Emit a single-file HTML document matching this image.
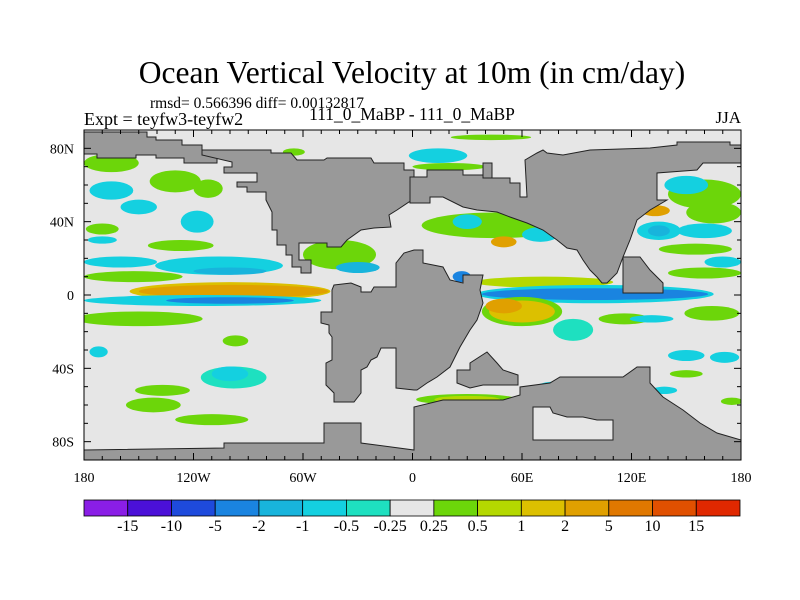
<!DOCTYPE html>
<html><head><meta charset="utf-8">
<style>
html,body{margin:0;padding:0;background:#fff;}
svg{display:block;font-family:"Liberation Serif",serif;}
</style></head>
<body>
<svg id="chart" width="800" height="600" viewBox="0 0 800 600" xmlns="http://www.w3.org/2000/svg">
<defs><clipPath id="plotclip"><rect x="84" y="130" width="657" height="330"/></clipPath></defs>
<text x="412" y="83" font-size="31.5" text-anchor="middle">Ocean Vertical Velocity at 10m (in cm/day)</text>
<text x="150" y="108" font-size="15.5">rmsd= 0.566396 diff= 0.00132817</text>
<text x="84" y="125" font-size="18">Expt = teyfw3-teyfw2</text>
<text x="412" y="120" font-size="17.5" text-anchor="middle">111_0_MaBP - 111_0_MaBP</text>
<text x="741" y="123" font-size="17" text-anchor="end">JJA</text>
<rect x="84" y="130" width="657" height="330" fill="#e6e6e6"/>
<g id="blobs" clip-path="url(#plotclip)"></g>
<g id="land" clip-path="url(#plotclip)"></g>
<g id="axes"></g>
<g id="colorbar"></g>
</svg>
<script>
const palette=["#8a1ee6","#4b10d8","#1e4adc","#1a84e0","#18b4dc","#14d0e0","#1ee0c0","#e6e6e6","#6cd60a","#b4d800","#dcc000","#e0a000","#e07800","#e05000","#e02800"];
const cbLabels=["-15","-10","-5","-2","-1","-0.5","-0.25","0.25","0.5","1","2","5","10","15"];
const xTickLabels=["180","120W","60W","0","60E","120E","180"];
const xTickLons=[-180,-120,-60,0,60,120,180];
const yTickLabels=["80N","40N","0","40S","80S"];
const yTickLats=[80,40,0,-40,-80];
// anomaly blobs: centre lon/lat, radius lon/lat, colour level
const blobLon=[-165,-165,-150,-130,-112,-118,-170,-170,-127,-160,-106,-100,-153,-100,-98,-115,-100,-150,-97,-98,-100,-137,-142,-110,-172,-40,-30,-65,
 43,14,20,45,30,70,27,50,72,100,100,60,60,50,88,116,131,164,160,150,165,160,155,170,160,133,135,135,171,150,150,175,30,30,82,138];
const blobLat=[72,57,48,62,58,40,36,30,27,18,16,13,10,2,2,-3,-3,-13,-25,-45,-43,-52,-60,-68,-31,22,15,78,
 86,76,70,38,40,33,10,29,7,0.5,0.5,-9,-9,-6,-19,-13,-13,-10,55,60,45,35,25,18,12,46,35,35,-34,-33,-43,-58,-57,-57,-50,-52];
const blobRLon=[15,12,10,14,8,9,9,8,18,20,35,20,27,55,52,65,35,35,7,18,10,15,15,20,5,20,12,6,
 22,16,20,40,8,10,5,7,38,65,62,22,18,10,11,14,12,15,20,12,15,15,20,10,20,8,12,6,8,10,9,6,28,18,14,7];
const blobRLat=[5,5,4,6,5,6,3,2,3,3,5,2,3,5,3.5,3,1.8,4,3,6,4,3,4,3,3,8,3,2,
 1.5,4,2,7,4,4,3,3,3,5,3.2,8,6,4,6,3,2,4,8,5,6,4,3,3,3,3,5,3,3,3,2,2,3,2,3,2];
const blobLevel=[8,5,5,8,8,5,8,5,8,5,5,4,8,10,11,5,3,8,8,6,5,8,8,8,5,8,4,8,
 8,5,8,8,5,5,3,11,9,5,3,8,10,11,6,8,5,8,8,5,8,5,8,5,8,11,5,4,5,5,8,8,8,9,5,5];
const W=657,H=330,X0=84,Y0=130;
function xs(lon){return X0+(lon+180)/360*W;}
function ys(lat){return Y0+(90-lat)/180*H;}
const NS="http://www.w3.org/2000/svg";
const gb=document.getElementById('blobs');
for(let i=0;i<blobLon.length;i++){
 const e=document.createElementNS(NS,'ellipse');
 e.setAttribute('cx',xs(blobLon[i]));e.setAttribute('cy',ys(blobLat[i]));
 e.setAttribute('rx',blobRLon[i]/360*W);e.setAttribute('ry',blobRLat[i]/180*H);
 e.setAttribute('fill',palette[blobLevel[i]]);
 
 
 gb.appendChild(e);
}
const landPolys=[
"84,132 147,132 147,137 156,137 156,140 182,140 182,145 202,145 202,155 217,155 217,163 184,163 184,158 156,158 156,155 136,155 136,158 97,158 97,154 84,154",
"202,150 271,150 271,153 291,153 297,160 324,160 327,158 371,158 374,163 404,163 404,170 414,170 414,200 409,202 397,210 389,215 391,227 374,228 361,230 347,240 341,247 327,247 327,243 299,243 299,260 311,260 311,273 301,273 301,267 292,267 292,255 286,255 286,245 277,245 277,230 272,230 272,212 271,210 266,200 266,192 247,192 247,187 237,187 237,182 257,182 257,173 224,173 224,167 232,167 232,162 202,155",
"334,285 351,283 361,287 361,292 371,292 374,287 396,287 396,263 404,253 414,250 423,250 423,263 443,267 450,280 463,283 463,275 483,275 480,290 483,303 477,320 470,330 460,347 450,367 437,377 427,383 417,390 414,390 396,388 396,348 381,348 377,357 371,360 367,367 361,370 361,393 354,402 334,402 334,393 326,385 326,363 332,360 332,337 329,333 329,325 321,323 321,312 332,312 332,290",
"410,177 427,177 427,170 463,170 463,175 487,175 487,178 510,178 510,183 520,183 520,197 527,197 525,160 537,153 543,150 547,153 563,155 590,150 650,148 677,145 677,142 730,142 730,145 741,145 741,163 703,163 697,170 657,173 657,200 667,200 650,210 637,220 630,240 623,257 617,273 607,283 602,283 597,277 590,270 583,260 577,250 567,248 557,240 543,230 527,223 510,217 497,212 477,210 463,207 443,197 430,197 430,203 410,203",
"623,257 640,257 650,270 657,277 663,283 663,293 623,293",
"457,370 470,370 470,363 487,352 497,363 503,370 518,375 518,385 483,385 470,388 457,383",
"84,450 224,448 224,443 324,443 324,423 361,423 361,443 414,450 414,407 443,400 503,400 520,395 520,387 550,383 560,377 623,377 637,367 650,367 650,383 663,397 683,410 700,423 717,433 741,440 741,462 84,462",
"483,163 492,163 492,178 483,178"];
const landNames=["arctic-landmass","north-america","south-america-africa","eurasia","india","australia","antarctica","island"];
const gl=document.getElementById('land');
landPolys.forEach((p,i)=>{
 const e=document.createElementNS(NS,'polygon');
 e.setAttribute('points',p);e.setAttribute('fill','#999999');e.setAttribute('stroke','#222');e.setAttribute('stroke-width','1');
 
 
 gl.appendChild(e);
});
const pocket=document.createElementNS(NS,'polygon');
pocket.setAttribute('points','533,407 550,407 553,413 567,417 583,417 597,420 613,420 613,440 533,440');
pocket.setAttribute('fill','#e6e6e6');pocket.setAttribute('stroke','#222');


gl.appendChild(pocket);
// axes
const ga=document.getElementById('axes');
let s='<rect x="84" y="130" width="657" height="330" fill="none" stroke="#000" stroke-width="1"/>';
for(let lon=-180;lon<=180;lon+=10){const x=xs(lon),L=(lon%60===0)?7:4;
 s+=`<line x1="${x}" y1="130" x2="${x}" y2="${130+L}" stroke="#000"/><line x1="${x}" y1="460" x2="${x}" y2="${460-L}" stroke="#000"/>`;}
for(let lat=-90;lat<=90;lat+=10){const y=ys(lat),L=(lat%40===0)?7:4;
 s+=`<line x1="84" y1="${y}" x2="${84+L}" y2="${y}" stroke="#000"/><line x1="741" y1="${y}" x2="${741-L}" y2="${y}" stroke="#000"/>`;}
xTickLabels.forEach((t,i)=>{s+=`<text x="${xs(xTickLons[i])}" y="482" font-size="14" text-anchor="middle">${t}</text>`;});
yTickLabels.forEach((t,i)=>{s+=`<text x="74" y="${ys(yTickLats[i])+5}" font-size="14" text-anchor="end">${t}</text>`;});
ga.innerHTML=s;
// colorbar
const gc=document.getElementById('colorbar');
const cbX=84,cbW=656,cbY=500,cbH=16,bw=cbW/palette.length;
let c='';
palette.forEach((col,i)=>{c+=`<rect x="${cbX+i*bw}" y="${cbY}" width="${bw}" height="${cbH}" fill="${col}" stroke="#000" stroke-width="0.8"/>`;});
cbLabels.forEach((t,i)=>{c+=`<text x="${cbX+(i+1)*bw}" y="531" font-size="16" text-anchor="middle">${t}</text>`;});
gc.innerHTML=c;
</script>
</body></html>
